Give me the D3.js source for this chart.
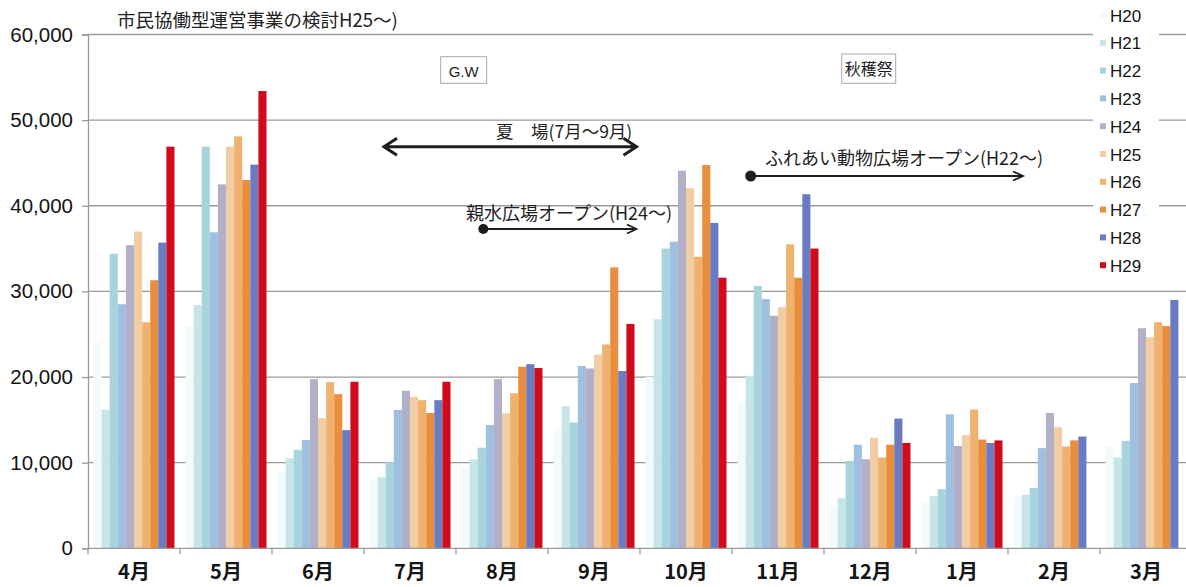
<!DOCTYPE html>
<html><head><meta charset="utf-8">
<script src="https://cdn.jsdelivr.net/npm/d3@7"></script>
<style>body{margin:0;background:#fff;} svg{display:block}</style>
</head><body><svg id="c" width="1186" height="587"></svg>
<script>
// ---- data ----
const months = ["4月","5月","6月","7月","8月","9月","10月","11月","12月","1月","2月","3月"];
const seriesNames = ["H20","H21","H22","H23","H24","H25","H26","H27","H28","H29"];
const H20 = [24000, 26000, 9000, 8000, 9500, 14000, 20000, 17000, 5000, 5500, 6000, 11900];
const H21 = [16200, 28400, 10500, 8300, 10400, 16600, 26750, 20150, 5850, 6100, 6250, 10600];
const H22 = [34400, 46900, 11500, 10050, 11750, 14700, 35000, 30650, 10200, 6900, 7050, 12550];
const H23 = [28500, 36900, 12650, 16150, 14400, 21300, 35800, 29100, 12100, 15650, 11700, 19300];
const H24 = [35400, 42500, 19750, 18400, 19750, 21000, 44100, 27150, 10400, 11950, 15800, 25700];
const H25 = [37000, 46900, 15200, 17700, 15750, 22600, 42050, 28150, 12900, 13200, 14150, 24650];
const H26 = [26400, 48100, 19400, 17300, 18100, 23800, 34050, 35500, 10600, 16200, 11900, 26400];
const H27 = [31300, 43000, 18000, 15800, 21200, 32800, 44750, 31600, 12100, 12700, 12600, 25950];
const H28 = [35700, 44800, 13800, 17300, 21500, 20700, 38000, 41350, 15150, 12300, 13050, 29000];
const H29 = [46900, 53400, 19450, 19450, 21050, 26200, 31600, 35000, 12300, 12600, null, null];
const seriesValues = [H20, H21, H22, H23, H24, H25, H26, H27, H28, H29];
const yTicks = [0, 10000, 20000, 30000, 40000, 50000, 60000];
const colors = ["#f4fafa","#c6e5e8","#a6d3dc","#9ebfe0","#b2b0c9","#f2cda4","#efb36f","#e98e3c","#6a7cc1","#d00c1c"];

// ---- layout ----
const W = 1186, H = 587;
const pLeft = 88, pRight = 1192, pTop = 34.5, pBottom = 548.3;
const svg = d3.select("#c");
const x0 = d3.scaleBand().domain(months).range([pLeft, pRight]).padding(0);
const x1 = d3.scaleBand().domain(seriesNames).range([0, x0.bandwidth()]).paddingInner(0).paddingOuter(0.68);
const y = d3.scaleLinear().domain([0, 60000]).range([pBottom, pTop]);
const gridColor = "#9a9a9a";
const sansFont = "'Liberation Sans', Arial, sans-serif";
const jpFont = "'Noto Sans CJK JP', sans-serif";

// gridlines
svg.append("g").selectAll("line").data(yTicks.filter(d => d > 0)).join("line")
  .attr("x1", pLeft).attr("x2", W)
  .attr("y1", d => y(d)).attr("y2", d => y(d))
  .attr("stroke", gridColor).attr("stroke-width", 1.3);

// bars
const rows = [];
months.forEach((m, i) => {
  seriesNames.forEach((s, j) => {
    const v = seriesValues[j][i];
    if (v != null) rows.push({m, s, v, c: colors[j]});
  });
});
svg.append("g").selectAll("rect").data(rows).join("rect")
  .attr("x", d => x0(d.m) + x1(d.s))
  .attr("y", d => y(d.v))
  .attr("width", x1.bandwidth())
  .attr("height", d => y(0) - y(d.v))
  .attr("fill", d => d.c);

// y axis
const yAxis = svg.append("g").attr("transform", `translate(${pLeft},0)`)
  .call(d3.axisLeft(y).tickValues(yTicks).tickFormat(d3.format(",")).tickSize(6).tickPadding(9));
yAxis.select(".domain").attr("stroke", gridColor).attr("stroke-width", 1.3);
yAxis.selectAll(".tick line").attr("stroke", gridColor).attr("stroke-width", 1.3);
yAxis.selectAll(".tick text").attr("font-family", sansFont).attr("font-size", "20.5px").attr("fill", "#141414");

// x axis baseline + boundary ticks + labels
svg.append("line").attr("x1", pLeft).attr("x2", W).attr("y1", y(0)).attr("y2", y(0))
  .attr("stroke", gridColor).attr("stroke-width", 1.3);
svg.append("g").selectAll("line").data(months).join("line")
  .attr("x1", d => x0(d)).attr("x2", d => x0(d))
  .attr("y1", y(0)).attr("y2", y(0) + 6)
  .attr("stroke", gridColor).attr("stroke-width", 1.3);
svg.append("g").selectAll("text").data(months).join("text")
  .attr("x", d => x0(d) + x0.bandwidth() / 2)
  .attr("y", 579)
  .attr("text-anchor", "middle")
  .attr("font-family", jpFont).attr("font-weight", 700).attr("font-size", "20px")
  .attr("fill", "#141414")
  .text(d => d);

// title fragment
svg.append("text").attr("x", 117).attr("y", 27)
  .attr("font-family", jpFont).attr("font-size", "18.5px").attr("fill", "#222")
  .text("市民協働型運営事業の検討H25〜)");

// annotations
const ann = svg.append("g").attr("fill", "#1e1e1e");
// G.W box
ann.append("rect").attr("x", 440.7).attr("y", 56.7).attr("width", 46).attr("height", 26.6)
  .attr("fill", "#fff").attr("stroke", "#a8a8a8").attr("stroke-width", 1);
ann.append("text").attr("x", 463.7).attr("y", 76.5).attr("text-anchor", "middle")
  .attr("font-family", sansFont).attr("font-size", "15px").text("G.W");
// 秋穫祭 box
ann.append("rect").attr("x", 841.7).attr("y", 54).attr("width", 54).attr("height", 29.3)
  .attr("fill", "#fff").attr("stroke", "#a8a8a8").attr("stroke-width", 1);
ann.append("text").attr("x", 868.7).attr("y", 74.5).attr("text-anchor", "middle")
  .attr("font-family", jpFont).attr("font-size", "16px").text("秋穫祭");
// 夏場 double arrow
ann.append("text").attr("x", 496).attr("y", 138)
  .attr("font-family", jpFont).attr("font-size", "17.5px").text("夏　場(7月〜9月)");
const ay = 146.7, ax1 = 384, ax2 = 636.5;
ann.append("path")
  .attr("d", `M${ax1},${ay}H${ax2}M${ax1 + 13},${ay - 8.5}L${ax1},${ay}L${ax1 + 13},${ay + 8.5}M${ax2 - 13},${ay - 8.5}L${ax2},${ay}L${ax2 - 13},${ay + 8.5}`)
  .attr("fill", "none").attr("stroke", "#1e1e1e").attr("stroke-width", 3).attr("stroke-linejoin", "miter");
// 親水広場
ann.append("text").attr("x", 466).attr("y", 220)
  .attr("font-family", jpFont).attr("font-size", "18px").text("親水広場オープン(H24〜)");
ann.append("circle").attr("cx", 483.3).attr("cy", 229).attr("r", 5);
ann.append("path")
  .attr("d", `M483.3,229H636.5M627,224.5L636.5,229L627,233.5`)
  .attr("fill", "none").attr("stroke", "#1e1e1e").attr("stroke-width", 1.8);
// ふれあい動物広場
ann.append("text").attr("x", 765).attr("y", 165)
  .attr("font-family", jpFont).attr("font-size", "18px").text("ふれあい動物広場オープン(H22〜)");
ann.append("circle").attr("cx", 750.7).attr("cy", 176).attr("r", 5.5);
ann.append("path")
  .attr("d", `M750.7,176H1023M1013,171.5L1023,176L1013,180.5`)
  .attr("fill", "none").attr("stroke", "#1e1e1e").attr("stroke-width", 1.8);

// legend
const lg = svg.append("g");
lg.append("rect").attr("x", 1093).attr("y", 0).attr("width", 66).attr("height", 283).attr("fill", "#fff");
const li = lg.selectAll("g").data(seriesNames).join("g")
  .attr("transform", (d, i) => `translate(1100,${15 + i * 27.8})`);
li.append("rect").attr("x", 0).attr("y", -3).attr("width", 6).attr("height", 6)
  .attr("fill", (d, i) => colors[i]);
li.append("text").attr("x", 10).attr("y", 6.5)
  .attr("font-family", sansFont).attr("font-size", "17px").attr("fill", "#141414")
  .text(d => d);
</script>
</body></html>
